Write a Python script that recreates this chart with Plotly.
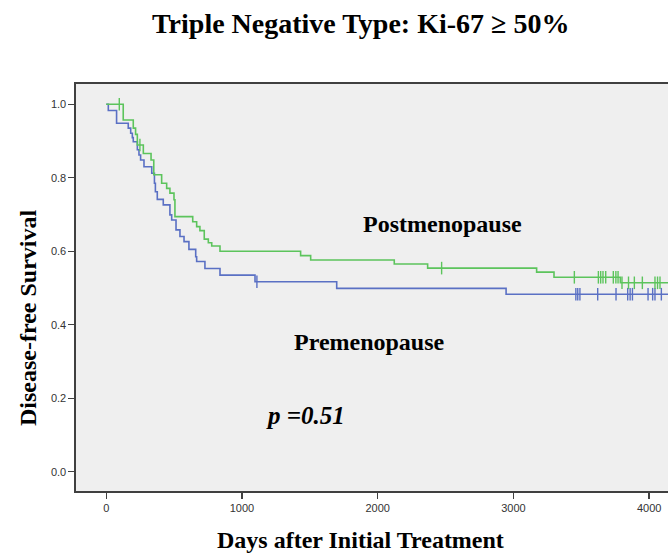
import numpy as np
import plotly.graph_objects as go

# ---- data ----
post_times = [0, 125, 199, 216, 229, 273, 330, 350, 408, 445, 469, 499, 506, 637, 666, 690,
              722, 752, 777, 838, 1432, 1506, 2122, 2368, 3171, 3299, 3788, 4300]
post_surv = [1.0, 0.957, 0.935, 0.918, 0.889, 0.866, 0.848, 0.808, 0.785, 0.771, 0.758, 0.740,
             0.694, 0.680, 0.667, 0.656, 0.633, 0.623, 0.614, 0.600, 0.588, 0.576, 0.565,
             0.554, 0.543, 0.529, 0.514, 0.514]
post_censored = [96, 248, 2471, 3449, 3626, 3643, 3660, 3680, 3736, 3755, 3771, 3800,
                 3848, 3891, 3950, 4043, 4062, 4080]

pre_times = [0, 15, 76, 162, 180, 192, 199, 229, 241, 253, 278, 335, 355, 362, 376, 420, 469,
             482, 514, 543, 573, 609, 659, 666, 727, 838, 1096, 1698, 2946, 4300]
pre_surv = [1.0, 0.983, 0.948, 0.935, 0.921, 0.909, 0.898, 0.876, 0.862, 0.848, 0.830, 0.812,
            0.785, 0.762, 0.741, 0.726, 0.699, 0.685, 0.658, 0.640, 0.626, 0.605, 0.585,
            0.572, 0.553, 0.535, 0.517, 0.499, 0.483, 0.483]
pre_censored = [1110, 3460, 3474, 3490, 3621, 3756, 3842, 3860, 3877, 3992, 4026, 4043, 4090]

x_ticks = [0, 1000, 2000, 3000, 4000]
y_ticks = [0.0, 0.2, 0.4, 0.6, 0.8, 1.0]

GREEN = "#5cc45c"
BLUE = "#5a70c4"


def surv_at(times, surv, t):
    idx = np.searchsorted(np.array(times), np.array(t), side="right") - 1
    return np.array(surv)[idx]


fig = go.Figure()
for times, surv, cens, color, name in [
    (pre_times, pre_surv, pre_censored, BLUE, "Premenopause"),
    (post_times, post_surv, post_censored, GREEN, "Postmenopause"),
]:
    fig.add_trace(go.Scatter(x=times, y=surv, mode="lines", line=dict(color=color, width=1.6, shape="hv"),
                             name=name, showlegend=False, hoverinfo="skip"))
    fig.add_trace(go.Scatter(x=cens, y=surv_at(times, surv, cens), mode="markers",
                             marker=dict(symbol="line-ns", size=9, line=dict(color=color, width=1.4)),
                             showlegend=False, hoverinfo="skip"))

serif = "Liberation Serif, Times New Roman, serif"
axcol = "#404040"
tickfont = dict(family="Liberation Sans, Arial, sans-serif", size=11, color="#333")

PW = 592.0  # plot-area width in px
PH = 407.0  # plot-area height in px

fig.update_layout(
    width=668, height=554, autosize=False,
    margin=dict(l=76, r=0, t=84, b=63),
    paper_bgcolor="white", plot_bgcolor="#efefef",
    xaxis=dict(range=[-223, 4139], tickvals=x_ticks, ticktext=[str(v) for v in x_ticks],
               showgrid=False, zeroline=False, showline=True, linecolor=axcol, linewidth=1.6,
               mirror=True, ticks="outside", ticklen=6, tickwidth=1.4, tickcolor=axcol,
               tickfont=tickfont),
    yaxis=dict(range=[-0.0525, 1.055], tickvals=y_ticks, ticktext=[f"{v:.1f}" for v in y_ticks],
               showgrid=False, zeroline=False, showline=True, linecolor=axcol, linewidth=1.6,
               ticks="outside", ticklen=6, tickwidth=1.4, tickcolor=axcol,
               tickfont=tickfont),
    annotations=[
        dict(text="<b>Triple Negative Type: Ki-67 ≥ 50%</b>", xref="paper", yref="paper",
             x=(360 - 76) / PW, y=(491 - 23) / PH, xanchor="center", yanchor="middle",
             showarrow=False, font=dict(family=serif, size=28, color="black")),
        dict(text="<b>Days after Initial Treatment</b>", xref="paper", yref="paper",
             x=(360 - 76) / PW, y=(491 - 540) / PH, xanchor="center", yanchor="middle",
             showarrow=False, font=dict(family=serif, size=24, color="black")),
        dict(text="<b>Disease-free Survival</b>", xref="paper", yref="paper", textangle=-90,
             x=(28 - 76) / PW, y=(491 - 318) / PH, xanchor="center", yanchor="middle",
             showarrow=False, font=dict(family=serif, size=24, color="black")),
        dict(text="<b>Postmenopause</b>", xref="x", yref="y", x=2481, y=0.674,
             xanchor="center", yanchor="middle", showarrow=False,
             font=dict(family=serif, size=24, color="black")),
        dict(text="<b>Premenopause</b>", xref="x", yref="y", x=1942, y=0.353,
             xanchor="center", yanchor="middle", showarrow=False,
             font=dict(family=serif, size=24, color="black")),
        dict(text="<b><i>p =0.51</i></b>", xref="x", yref="y", x=1471, y=0.152,
             xanchor="center", yanchor="middle", showarrow=False,
             font=dict(family=serif, size=25, color="black")),
    ],
)

# remove the default page margin / scrollbars so the figure fills the window exactly
fig.write_html(
    "out.html",
    config={"displayModeBar": False, "staticPlot": True},
    post_script="document.body.style.margin='0';document.body.style.overflow='hidden';"
                "document.documentElement.style.overflow='hidden';",
)
